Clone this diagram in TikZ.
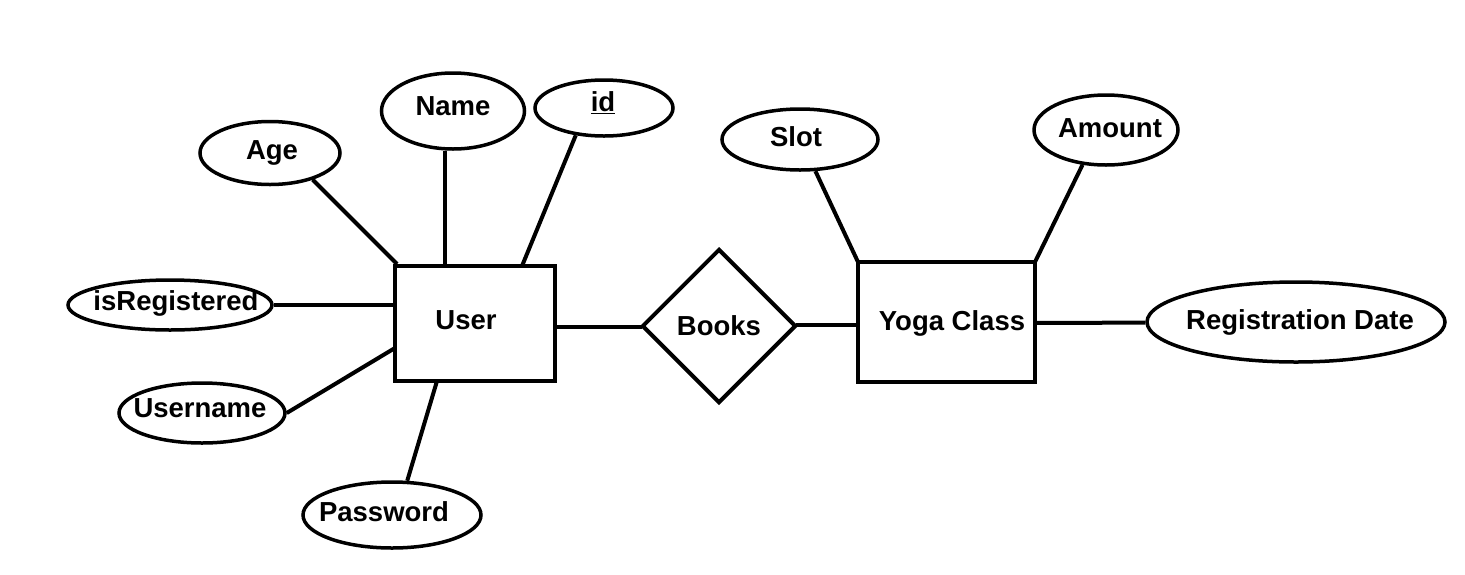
\documentclass[tikz,border=0pt]{standalone}
\usepackage{fontspec}
\setmainfont{Liberation Sans}
\usetikzlibrary{shapes.geometric}
\begin{document}
\begin{tikzpicture}[x=1pt,y=-1pt,line width=4pt,
  every node/.style={font=\fontsize{27.5}{32}\selectfont\bfseries},
  attr/.style={draw,ellipse,inner sep=0pt,line width=3.5pt},
  ent/.style={draw,rectangle,inner sep=0pt},
  rel/.style={draw,diamond,inner sep=0pt,aspect=1}]
\useasboundingbox[fill=white] (0,0) rectangle (1465,574);
% entities
\node[ent,minimum width=160pt,minimum height=115pt] (user) at (475,323.5) {};
\node at (466,320) {User};
\node[ent,minimum width=177pt,minimum height=120pt] (yoga) at (946.5,322) {};
\node at (952,323) {Yoga Class};
\node[rel,minimum width=154pt,minimum height=154pt] (books) at (719,326) {};
\node at (719,326) {Books};
% attributes
\node[attr,minimum width=140pt,minimum height=63pt] (age) at (270,153) {};
\node at (272,153) {Age};
\node[attr,minimum width=143pt,minimum height=76pt] (name) at (453,111) {};
\node at (453,106) {Name};
\node[attr,minimum width=138pt,minimum height=56pt] (id) at (604,108) {};
\node at (603,103) {\underline{id}};
\node[attr,minimum width=204pt,minimum height=50pt] (isreg) at (170,305) {};
\node at (176,303) {isRegistered};
\node[attr,minimum width=166pt,minimum height=60pt] (uname) at (202,413) {};
\node at (200,408) {Username};
\node[attr,minimum width=178pt,minimum height=66pt] (pass) at (392,515) {};
\node at (384,512) {Password};
\node[attr,minimum width=156pt,minimum height=61pt] (slot) at (800,139.5) {};
\node at (796,137) {Slot};
\node[attr,minimum width=144pt,minimum height=70pt] (amount) at (1106,130) {};
\node at (1110,128) {Amount};
\node[attr,minimum width=298pt,minimum height=80pt] (regdate) at (1296,322) {};
\node at (1300,322) {Registration Date};
% anchor points on entities
\coordinate (uA) at (397,264);
\coordinate (uN) at (445,266);
\coordinate (uI) at (522,266);
\coordinate (uR) at (395,305);
\coordinate (uU) at (395,348);
\coordinate (uP) at (437,381);
\coordinate (uB) at (555,327);
\coordinate (yB) at (858,325);
\coordinate (yS) at (858,262);
\coordinate (yA) at (1035,262);
\coordinate (yR) at (1035,323);
\coordinate (bL) at (642,327);
\coordinate (bR) at (796,325);
% connectors
\draw (age.-32) -- (uA);
\draw (name.south -| uN) -- (uN);
\draw (id.-136) -- (uI);
\draw (isreg) -- (uR);
\draw (uname.east) -- (uU);
\draw (pass.66) -- (uP);
\draw (uB) -- (bL);
\draw (bR) -- (yB);
\draw (slot.-64) -- (yS);
\draw (amount.-124) -- (yA);
\draw (yR) -- (regdate);
\end{tikzpicture}
\end{document}
